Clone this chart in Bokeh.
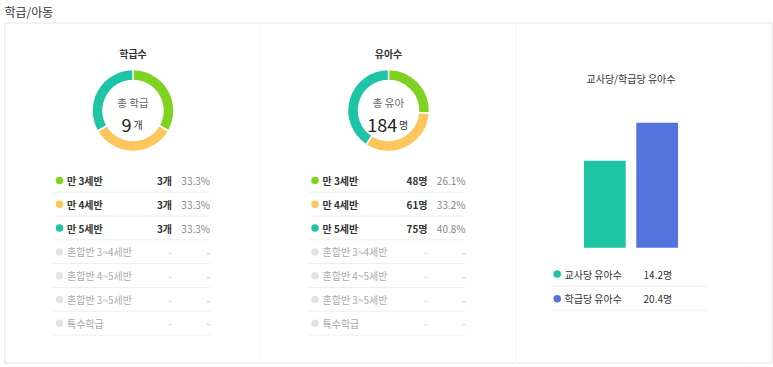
import math
from bokeh.plotting import figure
from bokeh.models import Range1d, FactorRange, ColumnDataSource
from bokeh.layouts import row
from bokeh.core.properties import value
from bokeh.embed import file_html
from bokeh.resources import INLINE

# ---------------- data ----------------
page_title = "학급/아동"
row_labels = ["만 3세반", "만 4세반", "만 5세반", "혼합반 3~4세반", "혼합반 4~5세반", "혼합반 3~5세반", "특수학급"]

class_title = "학급수"
class_total_label = "총 학급"
class_unit = "개"
class_counts = [3, 3, 3, None, None, None, None]
class_pcts = [33.3, 33.3, 33.3, None, None, None, None]

child_title = "유아수"
child_total_label = "총 유아"
child_unit = "명"
child_counts = [48, 61, 75, None, None, None, None]
child_pcts = [26.1, 33.2, 40.8, None, None, None, None]

ratio_title = "교사당/학급당 유아수"
ratio_labels = ["교사당 유아수", "학급당 유아수"]
ratio_values = [14.2, 20.4]
ratio_unit = "명"

# ---------------- style / layout ----------------
FONT = value("Noto Sans CJK KR")
SEG_COLORS = ["#7ed321", "#fdc65c", "#1dc4a5"]
INACTIVE_DOT = "#e2e2e2"
BAR_COLORS = ["#1cc4a4", "#5573dc"]
BORDER = "#e4e4e4"
SEP = "#eeeeee"
H = 367
W1, W2, W3, W4 = 261, 254, 231, 27


def T(y):
    return H - y


def make_fig(w, x_range=None):
    p = figure(width=w, height=H, x_range=x_range if x_range is not None else Range1d(0, w),
               y_range=Range1d(0, H), output_backend="svg", toolbar_location=None,
               x_axis_type=None, y_axis_type=None, min_border=0)
    p.grid.visible = False
    p.outline_line_color = None
    p.background_fill_color = "white"
    p.border_fill_color = "white"
    return p


def borders(p, x0, x1):
    p.segment(x0=[x0, x0], x1=[x1, x1], y0=[T(22.5), T(362.5)], y1=[T(22.5), T(362.5)],
              line_color=BORDER, line_width=1)


def txt(p, x, y, t, size, color, align="left", baseline="middle", style="normal"):
    p.text(x=[x], y=[y], text=[t], text_font=FONT, text_font_size=size, text_color=color,
           text_align=align, text_baseline=baseline, text_font_style=style)


def donut_panel(p, cx, title, total_label, unit, counts, pcts):
    cy = 110
    txt(p, cx, T(53), title, "10px", "#333333", "center", style="bold")
    active = [i for i, c in enumerate(counts) if c is not None]
    total = sum(counts[i] for i in active)
    starts, ends, cols = [], [], []
    acc = 0.0
    for i in active:
        a0 = math.pi / 2 - 2 * math.pi * acc / total
        acc += counts[i]
        a1 = math.pi / 2 - 2 * math.pi * acc / total
        starts.append(a0)
        ends.append(a1)
        cols.append(SEG_COLORS[i])
    src = ColumnDataSource(dict(start=starts, end=ends, color=cols))
    p.annular_wedge(x=cx, y=T(cy), inner_radius=30, outer_radius=41, start_angle="start",
                    end_angle="end", direction="clock", fill_color="color", line_color="white",
                    line_width=1.5, source=src)
    txt(p, cx, T(101.5), total_label, "10.5px", "#666666", "center")
    s = str(total)
    num_w = 0.56 * 18 * len(s)
    unit_w = 11
    left = cx - (num_w + unit_w + 2) / 2
    txt(p, left + num_w, T(124), s, "18px", "#222222", "right", "alphabetic")
    txt(p, left + num_w + 2, T(124), unit, "10px", "#333333", "left", "alphabetic")

    ys = [180 + i * 23.8 for i in range(len(row_labels))]
    act = [i for i in range(len(row_labels)) if counts[i] is not None]
    ina = [i for i in range(len(row_labels)) if counts[i] is None]
    p.scatter(x=[cx - 73.5] * len(act), y=[T(ys[i]) for i in act], size=7.5,
              fill_color=[SEG_COLORS[i] for i in act], line_color=None)
    p.scatter(x=[cx - 73.5] * len(ina), y=[T(ys[i]) for i in ina], size=7.5,
              fill_color=INACTIVE_DOT, line_color=None)
    p.text(x=[cx - 66] * len(act), y=[T(ys[i]) for i in act], text=[row_labels[i] for i in act],
           text_font=FONT, text_font_size="10px", text_color="#333333", text_baseline="middle",
           text_font_style="bold")
    p.text(x=[cx - 66] * len(ina), y=[T(ys[i]) for i in ina], text=[row_labels[i] for i in ina],
           text_font=FONT, text_font_size="10px", text_color="#aaaaaa", text_baseline="middle")
    p.text(x=[cx + 39] * len(act), y=[T(ys[i]) for i in act],
           text=[f"{counts[i]}{unit}" for i in act], text_font=FONT, text_font_size="10px",
           text_color="#333333", text_baseline="middle", text_align="right", text_font_style="bold")
    p.text(x=[cx + 77] * len(act), y=[T(ys[i]) for i in act],
           text=[f"{pcts[i]:.1f}%" for i in act], text_font=FONT, text_font_size="10px",
           text_color="#888888", text_baseline="middle", text_align="right")
    p.text(x=[cx + 39] * len(ina) + [cx + 77] * len(ina), y=[T(ys[i]) for i in ina] * 2,
           text=["-"] * (2 * len(ina)), text_font=FONT, text_font_size="10px",
           text_color="#bbbbbb", text_baseline="middle", text_align="right")
    p.segment(x0=[cx - 80] * len(ys), x1=[cx + 77] * len(ys), y0=[T(y + 11.7) for y in ys],
              y1=[T(y + 11.7) for y in ys], line_color="#eeeeee", line_width=1)


# ---------------- panel 1 ----------------
p1 = make_fig(W1)
borders(p1, 4, W1)
p1.segment(x0=[4.5], x1=[4.5], y0=[T(22.5)], y1=[T(362.5)], line_color=BORDER, line_width=1)
p1.segment(x0=[260.5], x1=[260.5], y0=[T(23)], y1=[T(362)], line_color=SEP, line_width=1)
txt(p1, 4, T(11), page_title, "12px", "#333333", "left")
donut_panel(p1, 132.5, class_title, class_total_label, class_unit, class_counts, class_pcts)

# ---------------- panel 2 ----------------
p2 = make_fig(W2)
borders(p2, 0, W2)
donut_panel(p2, 127, child_title, child_total_label, child_unit, child_counts, child_pcts)

# ---------------- panel 3 (bars, categorical x) ----------------
BAR_STEP = 52.3      # pixels per category
BAR_W_PX = 41.7
BAR_BASE = 247.3     # pixel row of the bar baseline (from top)
BAR_TOP = 122.3      # pixel row reached by the largest bar
side_pad = (W3 / BAR_STEP - len(ratio_labels)) / 2
xr = FactorRange(factors=ratio_labels, range_padding=side_pad, range_padding_units="absolute")
p3 = make_fig(W3, x_range=xr)


def SX(px):
    # pixel position inside the panel -> synthetic categorical coordinate
    return -side_pad + px / BAR_STEP


k = (BAR_BASE - BAR_TOP) / max(ratio_values)
p3.extra_y_ranges = {"val": Range1d(-T(BAR_BASE) / k, (H - T(BAR_BASE)) / k)}
p3.segment(x0=[SX(0), SX(0)], x1=[SX(W3), SX(W3)], y0=[T(22.5), T(362.5)],
           y1=[T(22.5), T(362.5)], line_color=BORDER, line_width=1)
p3.segment(x0=[SX(0.5)], x1=[SX(0.5)], y0=[T(23)], y1=[T(362)], line_color=SEP, line_width=1)
bsrc = ColumnDataSource(dict(cat=ratio_labels, val=ratio_values, color=BAR_COLORS))
p3.vbar(x="cat", top="val", bottom=0, width=BAR_W_PX / BAR_STEP, fill_color="color",
        line_color=None, source=bsrc, y_range_name="val")
txt(p3, SX(115.5), T(78.3), ratio_title, "10px", "#333333", "center")
rys = [273.5 + i * 24.7 for i in range(len(ratio_labels))]
p3.scatter(x=[SX(41.7)] * len(rys), y=[T(y) for y in rys], size=7.5, fill_color=BAR_COLORS,
           line_color=None)
p3.text(x=[SX(49)] * len(rys), y=[T(y) for y in rys], text=ratio_labels, text_font=FONT,
        text_font_size="10px", text_color="#333333", text_baseline="middle")
p3.text(x=[SX(156.7)] * len(rys), y=[T(y) for y in rys],
        text=[f"{v}{ratio_unit}" for v in ratio_values], text_font=FONT,
        text_font_size="10px", text_color="#333333", text_baseline="middle", text_align="right")
p3.segment(x0=[SX(37)] * len(rys), x1=[SX(192)] * len(rys), y0=[T(y + 12) for y in rys],
           y1=[T(y + 12) for y in rys], line_color="#eeeeee", line_width=1)

# ---------------- panel 4 (right edge) ----------------
p4 = make_fig(W4)
borders(p4, 0, 25.5)
p4.segment(x0=[25.5], x1=[25.5], y0=[T(22.5)], y1=[T(362.5)], line_color=BORDER, line_width=1)

layout = row(p1, p2, p3, p4, spacing=0)
open("out.html", "w").write(file_html(layout, INLINE))
